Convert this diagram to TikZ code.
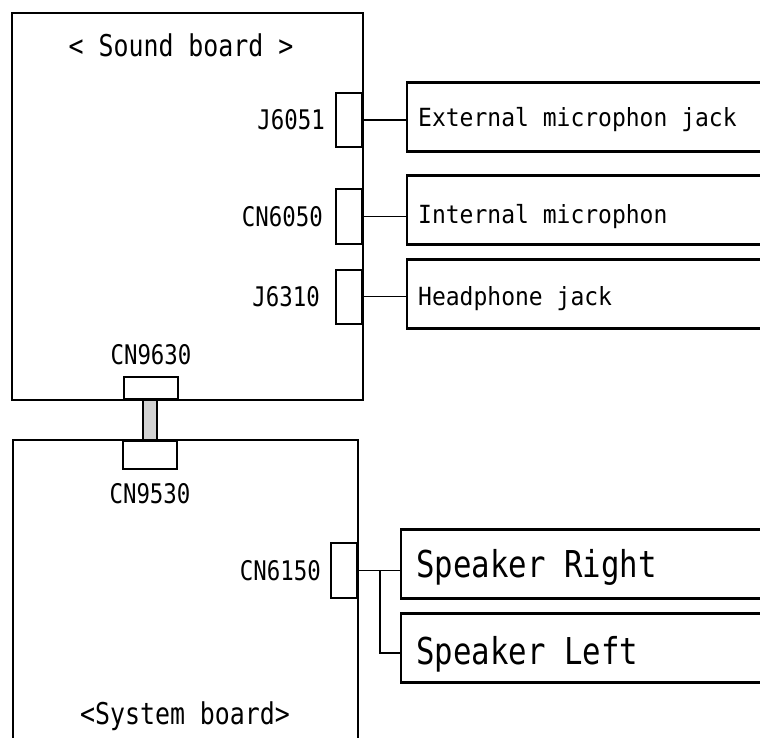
\documentclass[tikz,border=0pt]{standalone}
\usepackage{fontspec}
\usetikzlibrary{positioning}
\newfontfamily\gothic[FakeStretch=0.83]{DejaVu Sans Mono}
\newfontfamily\gothicw[FakeStretch=0.92]{DejaVu Sans Mono}

\tikzset{
  board/.style={draw, line width=2pt},
  pin/.style={draw, line width=2pt, fill=white, minimum width=26pt, minimum height=54pt, inner sep=0pt},
  bus/.style={draw, line width=2pt, fill=white, minimum width=54pt, inner sep=0pt},
  pinlbl/.style={inner sep=0pt, font={\gothic\fontsize{27pt}{27pt}\selectfont}, text height=19.7pt, text depth=0pt},
  title/.style={inner sep=0pt, font={\gothic\fontsize{30pt}{30pt}\selectfont}, text height=21.9pt, text depth=0pt},
  dev/.style={draw, line width=2.4pt, minimum height=69pt, minimum width=404pt, anchor=west},
  devtxt/.style={inner sep=0pt, font={\gothicw\fontsize{25pt}{25pt}\selectfont}, text height=18.2pt, text depth=0pt},
  spktxt/.style={inner sep=0pt, font={\gothic\fontsize{37pt}{37pt}\selectfont}, text height=27pt, text depth=0pt},
  wire/.style={line width=1.8pt},
}

\begin{document}
\begin{tikzpicture}[x=1pt, y=-1pt]
\useasboundingbox (0,0) rectangle (760,738);
\clip (0,0) rectangle (760,738);

\def\xsnd{363}
\def\xsys{358}
\def\xdev{406}
\def\xspk{400}

% sound board
\node[board, minimum width=351pt, minimum height=387pt] (snd) at (187.5,206.5) {};
\node[title] (sndname) at (181,46) {< Sound board >};

\node[pin, anchor=east] (j6051) at (\xsnd,120) {};
\node[pin, anchor=east] (cn6050) at (\xsnd,216.5) {};
\node[pin, anchor=east] (j6310) at (\xsnd,296.5) {};
\node[pinlbl, left=10pt of j6051] (j6051lbl) {J6051};
\node[pinlbl, left=12pt of cn6050] (cn6050lbl) {CN6050};
\node[pinlbl, left=15pt of j6310] (j6310lbl) {J6310};

\node[dev] (extmic) at (\xdev,117) {};
\node[dev] (intmic) at (\xdev,210) {};
\node[dev] (hphone) at (\xdev,294) {};
\node[devtxt, right=12pt of extmic.west] (extmictxt) {External microphon jack};
\node[devtxt, right=12pt of intmic.west, yshift=-4pt] (intmictxt) {Internal microphon};
\node[devtxt, right=12pt of hphone.west, yshift=-2pt] (hphonetxt) {Headphone jack};
\draw[wire] (j6051.east) -- (j6051.east -| extmic.west);
\draw[wire] (cn6050.east) -- (cn6050.east -| intmic.west);
\draw[wire] (j6310.east) -- (j6310.east -| hphone.west);

% system board
\node[board, line width=1.6pt, minimum width=345pt, minimum height=340pt] (sys) at (185.5,610) {};
\node[title] (sysname) at (185,714) {<System board>};

% board to board
\node[bus, minimum height=22pt, anchor=south] (cn9630) at (151,400) {};
\node[pinlbl, above=11pt of cn9630] (cn9630lbl) {CN9630};
\node[bus, minimum height=28pt, anchor=north] (cn9530) at (150,440) {};
\node[pinlbl, below=14pt of cn9530] (cn9530lbl) {CN9530};
\draw[line width=1.8pt, fill=gray!35] ([xshift=-7pt]cn9530.north |- cn9630.south) rectangle ([xshift=7pt]cn9530.north);

% speakers
\node[pin, minimum height=55pt, anchor=east] (cn6150) at (\xsys,570.5) {};
\node[pinlbl, left=9pt of cn6150] (cn6150lbl) {CN6150};
\node[dev] (spkr) at (\xspk,564) {};
\node[dev] (spkl) at (\xspk,648) {};
\node[spktxt, right=16pt of spkr.west] (spkrtxt) {Speaker Right};
\node[spktxt, right=16pt of spkl.west, yshift=-3pt] (spkltxt) {Speaker Left};
\path (cn6150.east) ++(22,0) coordinate (fork);
\draw[wire] (cn6150.east) -- (cn6150.east -| spkr.west);
\draw[wire] (fork) |- ([yshift=-5pt]spkl.west);
\end{tikzpicture}
\end{document}
